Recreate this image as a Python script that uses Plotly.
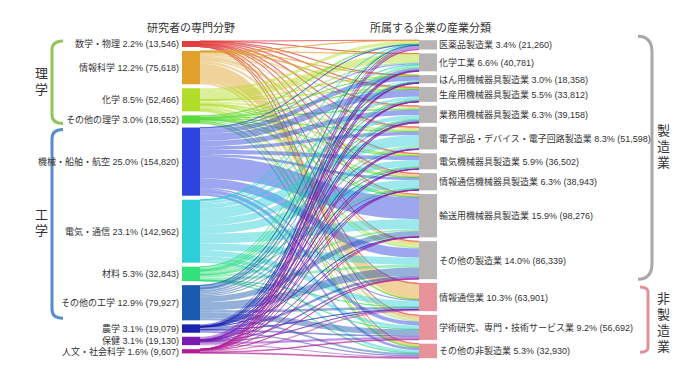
import plotly.graph_objects as go

W, H = 700, 370
FONT = "Liberation Sans, Noto Sans CJK JP"

# ---------------- data ----------------
src_names = ["数学・物理", "情報科学", "化学", "その他の理学", "機械・船舶・航空", "電気・通信",
             "材料", "その他の工学", "農学", "保健", "人文・社会科学"]
src_pct = ["2.2%", "12.2%", "8.5%", "3.0%", "25.0%", "23.1%", "5.3%", "12.9%", "3.1%", "3.1%", "1.6%"]
src_totals = [13546, 75618, 52466, 18552, 154820, 142962, 32843, 79927, 19079, 19130, 9607]
src_colors = ["#e23c3c", "#e0a02a", "#b2dc2a", "#5ad83c", "#2c44e0", "#2ccfd8",
              "#34e07c", "#1c5ab0", "#1c22b0", "#7a1cb4", "#b41c94"]

tgt_names = ["医薬品製造業", "化学工業", "はん用機械器具製造業", "生産用機械器具製造業",
             "業務用機械器具製造業", "電子部品・デバイス・電子回路製造業", "電気機械器具製造業",
             "情報通信機械器具製造業", "輸送用機械器具製造業", "その他の製造業",
             "情報通信業", "学術研究、専門・技術サービス業", "その他の非製造業"]
tgt_pct = ["3.4%", "6.6%", "3.0%", "5.5%", "6.3%", "8.3%", "5.9%", "6.3%", "15.9%", "14.0%",
           "10.3%", "9.2%", "5.3%"]
tgt_totals = [21260, 40781, 18358, 33812, 39158, 51598, 36502, 38943, 98276, 86339,
              63901, 56692, 32930]
tgt_group = ["製造業"] * 10 + ["非製造業"] * 3

# flows[source][target] (estimated)
flows = [
    [300, 600, 400, 1200, 1500, 1800, 900, 1300, 900, 1000, 1800, 1400, 446],
    [300, 500, 700, 2000, 3500, 3500, 2500, 7000, 3500, 4720, 35000, 8000, 4398],
    [7260, 18481, 500, 1500, 2500, 4500, 2000, 1000, 1759, 7500, 500, 3000, 1966],
    [1500, 3000, 300, 800, 1500, 1500, 700, 500, 700, 3000, 800, 2500, 1752],
    [500, 2500, 10858, 16712, 12058, 8000, 9202, 6000, 50000, 21118, 3000, 9052, 5820],
    [300, 1500, 2500, 6000, 9500, 23598, 15000, 18543, 22217, 16201, 13201, 8240, 6162],
    [400, 6000, 1000, 2000, 2000, 5000, 2000, 1000, 5000, 6000, 300, 1000, 1143],
    [1000, 5500, 1800, 3000, 4500, 3000, 3500, 3000, 13000, 19000, 5500, 13000, 4127],
    [3000, 2000, 100, 200, 300, 200, 200, 100, 400, 5500, 300, 4000, 2779],
    [6500, 500, 100, 200, 1500, 200, 300, 200, 300, 1500, 500, 5000, 2330],
    [200, 200, 100, 200, 300, 300, 200, 300, 500, 800, 3000, 1500, 2007],
]

# ---------------- layout geometry (pixels) ----------------
dom_top, dom_bot = 40.0, 358.0
Hd = dom_bot - dom_top
pad = 3.8
total = sum(tgt_totals)
ky = (Hd - (len(tgt_names) - 1) * pad) / total
left_cx, right_cx, thick = 191.0, 428.0, 18.0
left_top, left_gap = 41.0, 4.0
right_top, right_gap = 40.2, pad


def column(values, top, gap):
    centers, tops, bots = [], [], []
    y = top
    for v in values:
        h = v * ky
        tops.append(y)
        centers.append(y + h / 2)
        bots.append(y + h)
        y += h + gap
    return centers, tops, bots


lc, ltop, lbot = column(src_totals, left_top, left_gap)
rc, rtop, rbot = column(tgt_totals, right_top, right_gap)


def hexa(c, a):
    c = c.lstrip("#")
    return "rgba(%d,%d,%d,%.2f)" % (int(c[0:2], 16), int(c[2:4], 16), int(c[4:6], 16), a)


ns = len(src_names)
grp_col = {"製造業": "#b8b4b4", "非製造業": "#e8939b"}
node_colors = src_colors + [grp_col[g] for g in tgt_group]
node_x = [left_cx / W] * ns + [right_cx / W] * len(tgt_names)
node_y = [(c - dom_top) / Hd for c in lc] + [(c - dom_top) / Hd for c in rc]

link_s, link_t, link_v, link_c = [], [], [], []
for i, row in enumerate(flows):
    for j, v in enumerate(row):
        link_s.append(i)
        link_t.append(ns + j)
        link_v.append(v)
        link_c.append(hexa(src_colors[i], 0.47))

fig = go.Figure(go.Sankey(
    arrangement="fixed",
    domain=dict(x=[0, 1], y=[1 - dom_bot / H, 1 - dom_top / H]),
    node=dict(label=[""] * (ns + len(tgt_names)), x=node_x, y=node_y,
              color=node_colors, thickness=thick, pad=pad,
              line=dict(width=0),
              customdata=src_names + tgt_names,
              hovertemplate="%{customdata}: %{value:,}<extra></extra>"),
    link=dict(source=link_s, target=link_t, value=link_v, color=link_c),
))


def py(p):
    return 1 - p / H


ann = []
for i, name in enumerate(src_names):
    ann.append(dict(x=181 / W, y=py(lc[i]), xanchor="right", yanchor="middle",
                    text="%s %s (%s)" % (name, src_pct[i], format(src_totals[i], ",")),
                    font=dict(size=9, color="#333333", family=FONT)))
for j, name in enumerate(tgt_names):
    ann.append(dict(x=437 / W, y=py(rc[j]), xanchor="left", yanchor="middle",
                    text="%s %s (%s)" % (name, tgt_pct[j], format(tgt_totals[j], ",")),
                    font=dict(size=9, color="#333333", family=FONT)))

ann.append(dict(x=191 / W, y=py(27), text="研究者の専門分野", xanchor="center", yanchor="middle",
                font=dict(size=11, color="#333333", family=FONT)))
ann.append(dict(x=430 / W, y=py(27), text="所属する企業の産業分類", xanchor="center", yanchor="middle",
                font=dict(size=11, color="#333333", family=FONT)))

shapes = []


def path_shape(d, color):
    shapes.append(dict(type="path", path=d, xref="paper", yref="paper",
                       line=dict(color=color, width=3), fillcolor="rgba(0,0,0,0)"))


def P(x, y):
    return "%.5f,%.5f" % (x / W, py(y))


def bracket(top, bot, color, xe, xv, r):
    d = ("M " + P(xe, top) + " Q " + P(xv, top) + " " + P(xv, top + r) +
         " L " + P(xv, bot - r) + " Q " + P(xv, bot) + " " + P(xe, bot))
    path_shape(d, color)


# 理学: sources 0-3, 工学: sources 4-7
bracket(ltop[0], lbot[3], "#92c45a", 63, 52, 9)
bracket(ltop[4] + 2, lbot[7] - 2, "#5a8ccc", 63, 52, 9)
bracket(rtop[0] - 4, rbot[9], "#a8a8a8", 638, 652, 16)
bracket(rtop[10] + 4, rbot[12] - 6, "#e0909a", 640, 648, 5)


def vtext(x, y_first, step, s):
    for k, ch in enumerate(s):
        ann.append(dict(x=x / W, y=py(y_first + k * step), text=ch, xanchor="center",
                        yanchor="middle", font=dict(size=13, color="#333333", family=FONT)))


vtext(41, 74, 16, "理学")
vtext(41, 214, 16, "工学")
vtext(663, 131, 16, "製造業")
vtext(663, 298, 16, "非製造業")

for a in ann:
    a["showarrow"] = False
    a["xref"] = "paper"
    a["yref"] = "paper"

fig.update_layout(width=W, height=H, margin=dict(l=0, r=0, t=0, b=0),
                  paper_bgcolor="white", plot_bgcolor="white",
                  annotations=ann, shapes=shapes,
                  font=dict(family=FONT, color="#333333"))

fig.write_html("out.html", config={"displayModeBar": False},
               post_script="document.body.style.margin='0px';")
